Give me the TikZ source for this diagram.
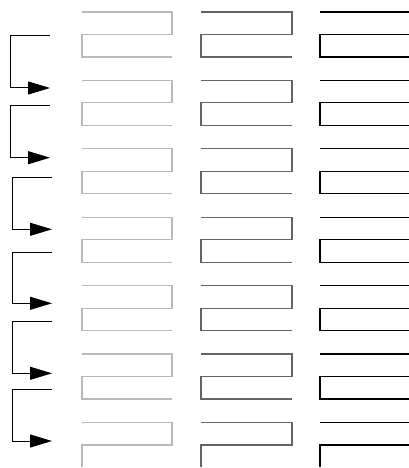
\documentclass[tikz,border=0pt]{standalone}
\usetikzlibrary{arrows.meta}
\begin{document}
\begin{tikzpicture}[x=1pt,y=-1pt,
  meander/.style={line width=1.2pt,line join=miter},
  light/.style={meander,draw={rgb,255:red,185;green,185;blue,185}},
  mid/.style={meander,draw={rgb,255:red,100;green,100;blue,100}},
  dark/.style={meander,draw=black},
  bracket/.style={line width=1pt,draw=black,-{Triangle[length=22pt,width=13pt]}}]
\useasboundingbox (0,0) rectangle (409,468);
\begin{scope}
\clip (0,0) rectangle (409,466.5);
\foreach \i in {0,...,6}{
  \pgfmathsetmacro{\t}{12+68.4*\i}
  \draw[light] (82,\t) -- (172,\t) -- (172,\t+22.5) -- (82,\t+22.5) -- (82,\t+45) -- (172,\t+45);
  \draw[mid] (201,\t) -- (292,\t) -- (292,\t+22.5) -- (201,\t+22.5) -- (201,\t+45) -- (292,\t+45);
  \draw[dark] (320,\t) -- (411,\t) -- (411,\t+22.5) -- (320,\t+22.5) -- (320,\t+45) -- (411,\t+45);
}
\end{scope}
% brackets
\coordinate (s1) at (50,36);    \coordinate (e1) at (50,88);
\coordinate (s2) at (50,105.3); \coordinate (e2) at (50,157.7);
\coordinate (s3) at (52,177.7); \coordinate (e3) at (52,229.3);
\coordinate (s4) at (52,252);   \coordinate (e4) at (52,303.3);
\coordinate (s5) at (52,321.7); \coordinate (e5) at (52,373.3);
\coordinate (s6) at (52,389.3); \coordinate (e6) at (52,441);
\draw[bracket] (s1) -- (10,36) -- (10,88) -- (e1);
\draw[bracket] (s2) -- (10,105.3) -- (10,157.7) -- (e2);
\draw[bracket] (s3) -- (12,177.7) -- (12,229.3) -- (e3);
\draw[bracket] (s4) -- (12,252) -- (12,303.3) -- (e4);
\draw[bracket] (s5) -- (12,321.7) -- (12,373.3) -- (e5);
\draw[bracket] (s6) -- (12,389.3) -- (12,441) -- (e6);
\end{tikzpicture}
\end{document}
